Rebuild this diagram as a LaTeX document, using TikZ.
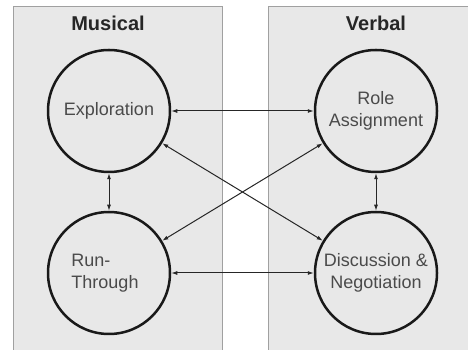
\documentclass[tikz,border=0pt]{standalone}
\usepackage{fontspec}
\setmainfont{Liberation Sans}
\usepackage{xcolor}
\usepackage{tikz}
\usetikzlibrary{arrows.meta,positioning}

\definecolor{panelgray}{HTML}{E8E8E8}
\definecolor{panelline}{HTML}{A0A0A0}
\definecolor{textgray}{HTML}{4A4A4A}

\begin{document}
\begin{tikzpicture}[
    x=1pt, y=1pt,
    stage/.style={draw=black!90, circle, line width=2.5pt, minimum size=122pt, inner sep=0pt,
      align=center, text=textgray, font=\fontsize{18}{22}\selectfont},
    title/.style={font=\fontsize{20}{22}\selectfont\bfseries, text=black!85},
    panel/.style={fill=panelgray, draw=panelline, line width=1pt},
    link/.style={{Latex[length=6pt,width=4pt]}-{Latex[length=6pt,width=4pt]}, draw=black!85, line width=1pt}
  ]
    % Canvas and panels
    \useasboundingbox (0,0) rectangle (468,350);
    \clip (0,0) rectangle (468,350);
    \draw[panel] (13.5,-5) rectangle (222,343);
    \draw[panel] (268,-5) rectangle (480,343);

    % Panel titles
    \node[title] (musical) at (108,327) {Musical};
    \node[title] (verbal) at (376,327) {Verbal};

    % Stages
    \node[stage] (expl) at (109,239) {Exploration};
    \node[stage, right=142.5pt of expl] (role) {Role\\Assignment};
    \node[stage, below=37.5pt of expl] (run) {};
    \node[stage, below=37.5pt of role] (disc) {Discussion \&\\Negotiation};
    \node[align=left, text=textgray, font=\fontsize{18}{22}\selectfont, anchor=center]
      (runtext) at ([xshift=-4pt]run.center) {Run-\\Through};

    % Links
    \draw[link] (expl) -- (role);
    \draw[link] (run) -- (disc);
    \draw[link] (expl) -- (run);
    \draw[link] (role) -- (disc);
    \draw[link] (expl) -- (disc);
    \draw[link] (run) -- (role);
  \end{tikzpicture}
\end{document}
